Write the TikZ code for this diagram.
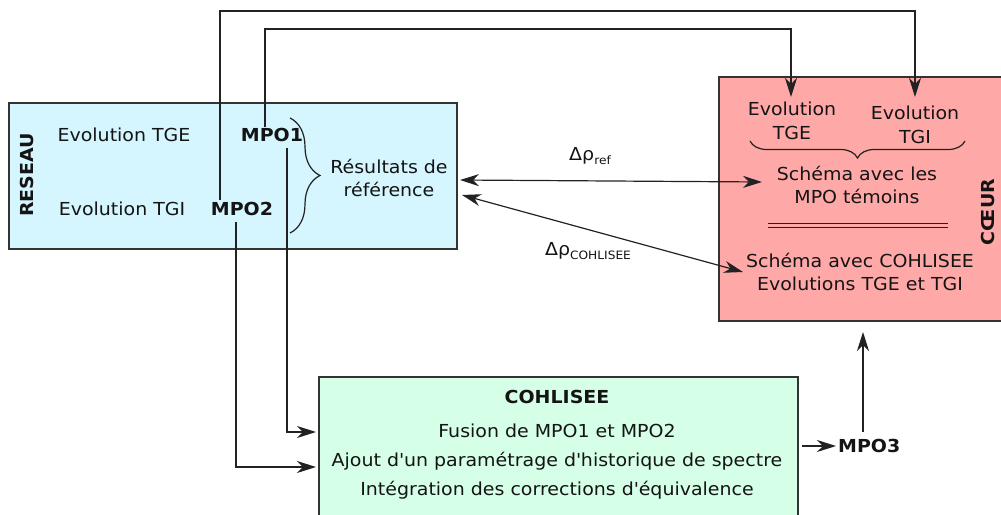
\documentclass[tikz,border=0pt]{standalone}
\usepackage{fontspec}
\setmainfont[FakeStretch=1.06]{DejaVu Sans}
\usetikzlibrary{arrows.meta,decorations.pathreplacing,calc}
\definecolor{reseaucol}{HTML}{D5F5FF}
\definecolor{coeurcol}{HTML}{FFA8A8}
\definecolor{cohlcol}{HTML}{D5FFE6}
\definecolor{edgecol}{HTML}{333333}
\definecolor{linecol}{HTML}{222222}
\begin{document}
\begin{tikzpicture}[x=1pt,y=-1pt,
  font=\fontsize{17.9}{23.5}\selectfont,
  box/.style={draw=edgecol,line width=1.5pt,anchor=north west,inner sep=0pt},
  txt/.style={inner sep=0pt,align=center,text=black!92},
  bold/.style={txt,font=\fontsize{17.9}{23.5}\selectfont\bfseries},
  conn/.style={draw=linecol,line width=1.2pt},
  tip/.style={-{Stealth[length=19pt,width=12pt,inset=6pt]}},
  dtip/.style={{Stealth[length=19pt,width=12pt,inset=6pt]}-{Stealth[length=19pt,width=12pt,inset=6pt]}},
  bracestyle/.style={draw=linecol,line width=1.2pt,decorate}
]
\useasboundingbox (0,0) rectangle (1001,514);
% boxes
\node[box,fill=reseaucol,minimum width=448pt,minimum height=146pt] (reseau) at (8,102) {};
\node[box,fill=coeurcol,minimum width=292pt,minimum height=244pt] (coeur) at (718,76) {};
\node[box,fill=cohlcol,minimum width=479pt,minimum height=160pt] (cohl) at (318,376) {};
% RESEAU texts
\node[bold,rotate=90] (reseaulbl) at (27,175) {RESEAU};
\node[txt] (evtge) at (124,135) {Evolution TGE};
\node[bold] (mpo1) at (272,135) {MPO1};
\node[txt] (evtgi) at (122,209) {Evolution TGI};
\node[bold] (mpo2) at (242,209) {MPO2};
\node[txt] (resref) at (389,178) {Résultats de\\référence};
\coordinate (b1a) at (290,118);
\coordinate (b1b) at (290,233);
\draw[bracestyle,decoration={brace,amplitude=30pt,aspect=0.5}] (b1a) -- (b1b);
% COEUR texts
\node[txt] (cevtge) at (792,121) {Evolution\\TGE};
\node[txt] (cevtgi) at (915,125) {Evolution\\TGI};
\coordinate (b2a) at (965,141);
\coordinate (b2b) at (750,141);
\draw[bracestyle,decoration={brace,amplitude=17pt,aspect=0.5}] (b2a) -- (b2b);
\node[txt] (schema1) at (857,185) {Schéma avec les\\MPO témoins};
\coordinate (dl1a) at (768,223);
\coordinate (dl1b) at (948,223);
\coordinate (dl2a) at (768,227.5);
\coordinate (dl2b) at (948,227.5);
\draw[draw=linecol,line width=1pt] (dl1a) -- (dl1b) (dl2a) -- (dl2b);
\node[txt] (schema2) at (860,272) {Schéma avec COHLISEE\\Evolutions TGE et TGI};
\node[bold,rotate=90] (coeurlbl) at (988,212) {CŒUR};
% COHLISEE texts
\node[bold] (cohllbl) at (557,397) {COHLISEE};
\node[txt,font=\fontsize{17.9}{29}\selectfont] (cohltxt) at (557,462) {Fusion de MPO1 et MPO2\\Ajout d\textquotesingle un paramétrage d\textquotesingle historique de spectre\\Intégration des corrections d\textquotesingle équivalence};
\node[bold,anchor=west] (mpo3) at (838,446) {MPO3};
% delta labels
\node[txt] (dref) at (590,156) {Δρ\raisebox{-0.35ex}{\fontsize{11.5}{12}\selectfont ref}};
\node[txt] (dcohl) at (588,251) {Δρ\raisebox{-0.35ex}{\fontsize{11.5}{12}\selectfont COHLISEE}};
% connector coordinates
\coordinate (m1up) at (265,127);
\coordinate (m1top) at (265,29);
\coordinate (m1right) at (791,29);
\coordinate (m1end) at (791,97);
\coordinate (m2up) at (220,200);
\coordinate (m2top) at (220,11);
\coordinate (m2right) at (915,11);
\coordinate (m2end) at (915,97);
\coordinate (m1dn) at (287,148);
\coordinate (m1corner) at (287,432);
\coordinate (m1in) at (316,432);
\coordinate (m2dn) at (236,222);
\coordinate (m2corner) at (236,467);
\coordinate (m2in) at (316,467);
\coordinate (refA) at (460,180);
\coordinate (refB) at (762,182);
\coordinate (cohA) at (462,195);
\coordinate (cohB) at (743,272);
\coordinate (c3A) at (802,446);
\coordinate (c3B) at (836,446);
\coordinate (u3A) at (863,432);
\coordinate (u3B) at (863,332);
% connectors
\draw[conn,tip] (m1up) -- (m1top) -- (m1right) -- (m1end);
\draw[conn,tip] (m2up) -- (m2top) -- (m2right) -- (m2end);
\draw[conn,tip] (m1dn) -- (m1corner) -- (m1in);
\draw[conn,tip] (m2dn) -- (m2corner) -- (m2in);
\draw[conn,dtip] (refA) -- (refB);
\draw[conn,dtip] (cohA) -- (cohB);
\draw[conn,tip] (c3A) -- (c3B);
\draw[conn,tip] (u3A) -- (u3B);
\end{tikzpicture}
\end{document}
